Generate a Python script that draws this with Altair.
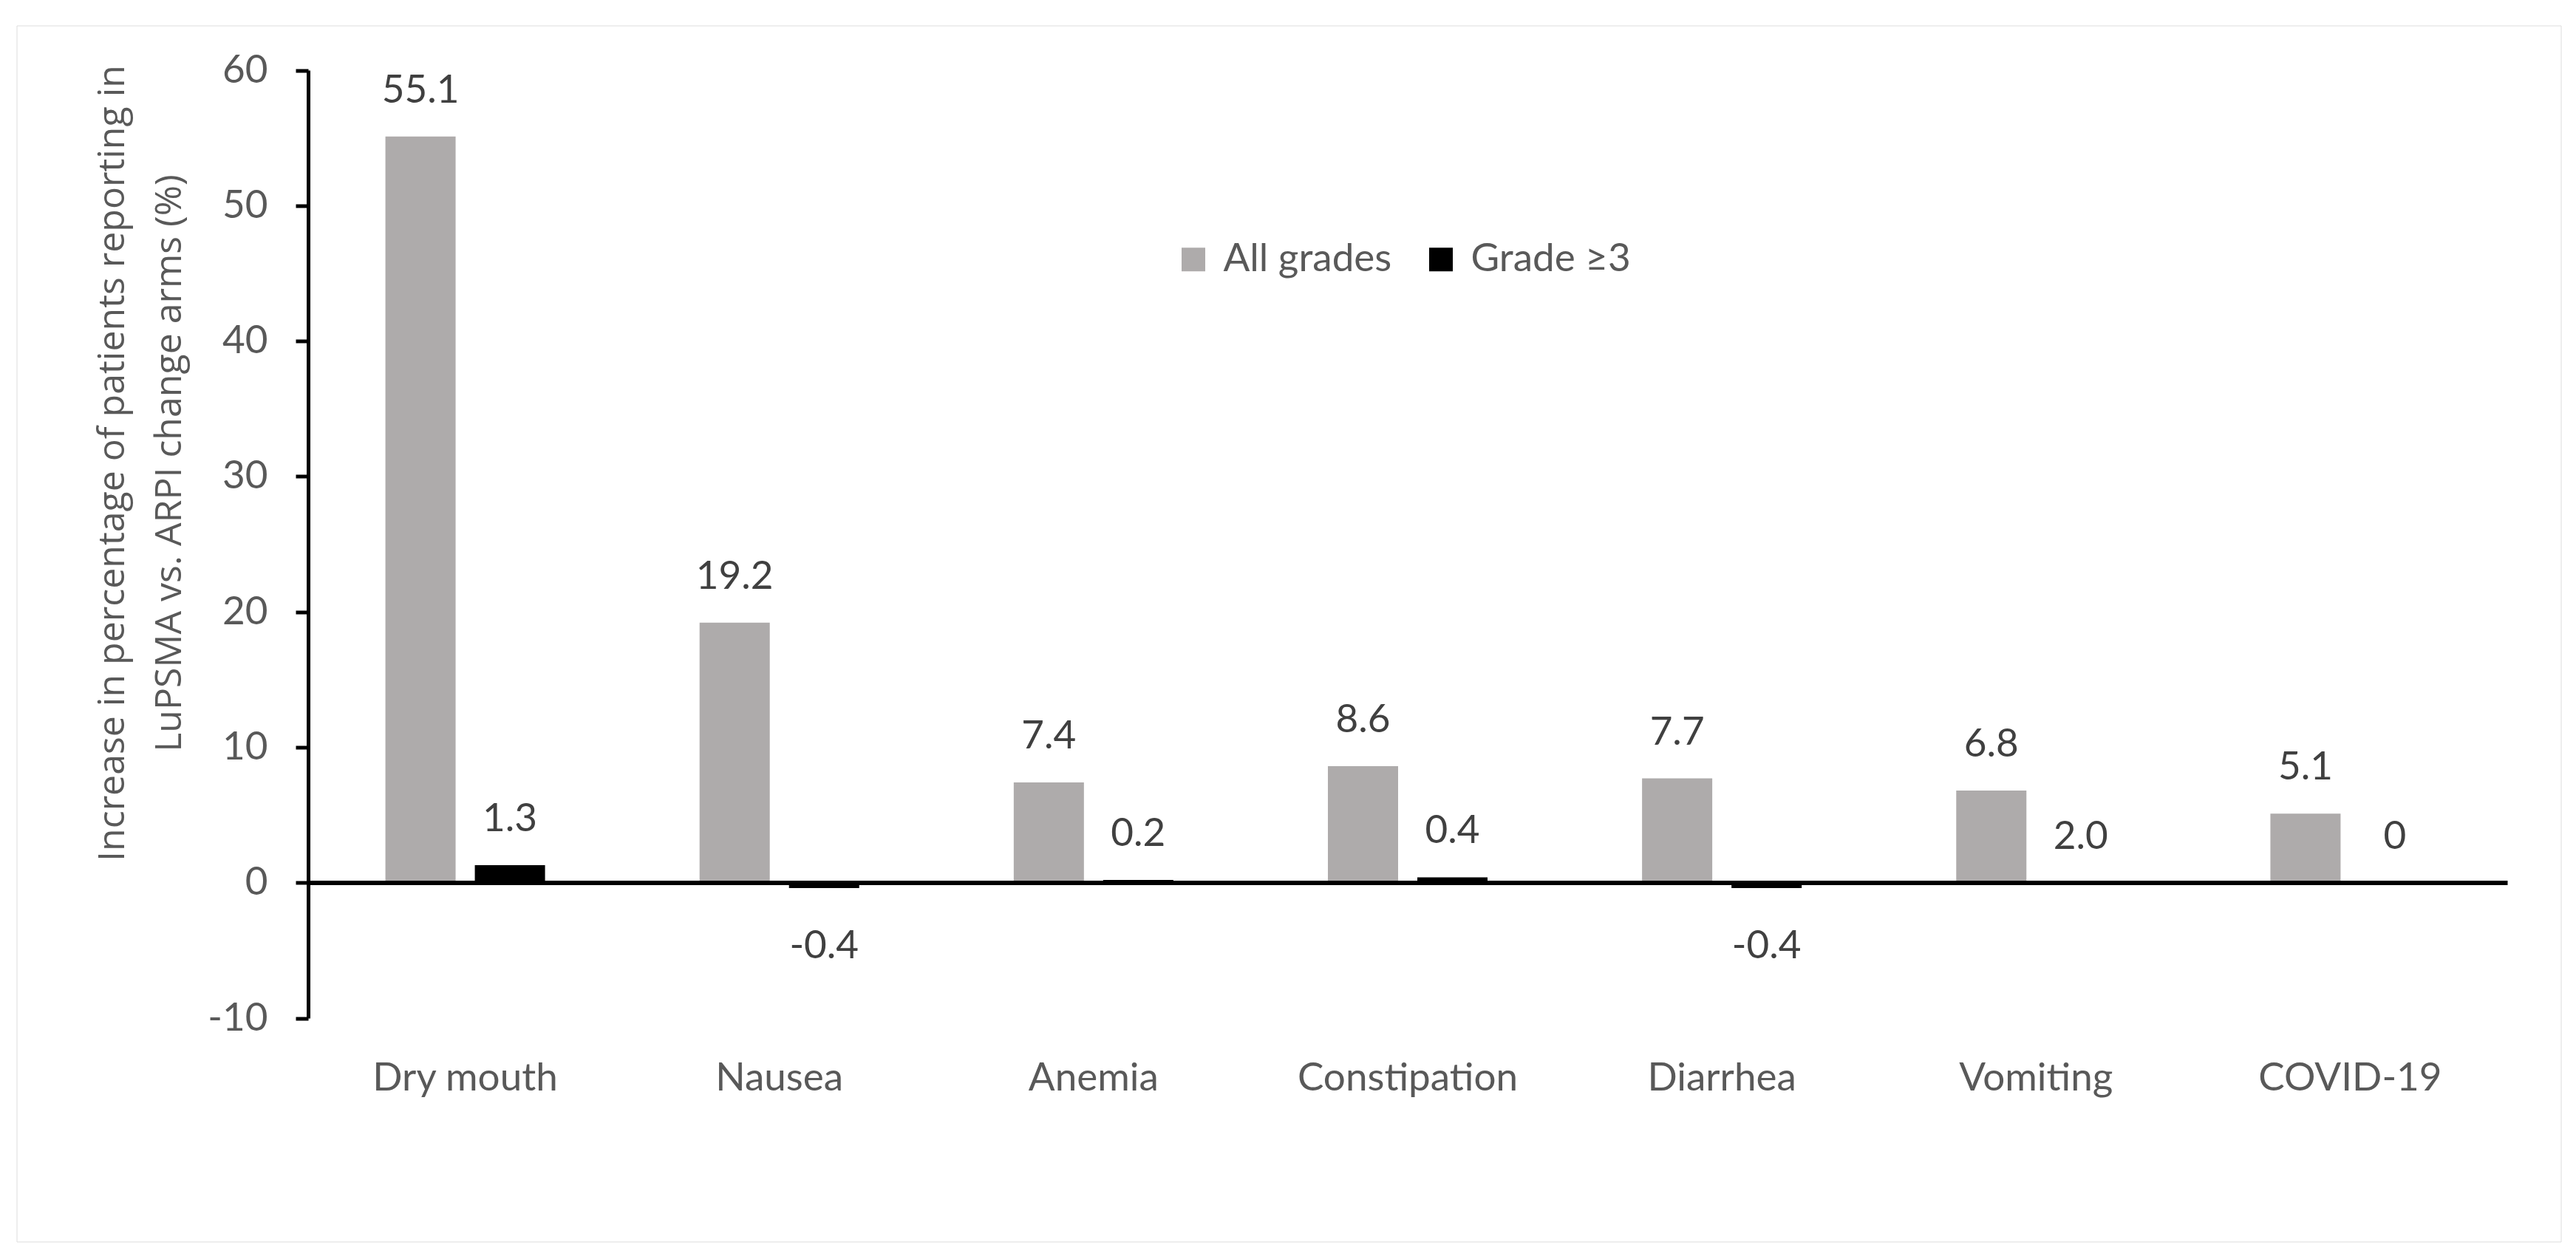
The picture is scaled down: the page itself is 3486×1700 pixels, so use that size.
import altair as alt
import pandas as pd

categories = ["Dry mouth", "Nausea", "Anemia", "Constipation", "Diarrhea", "Vomiting", "COVID-19"]
series = ["All grades", "Grade \u22653"]
all_grades = [55.1, 19.2, 7.4, 8.6, 7.7, 6.8, 5.1]
all_grades_labels = ["55.1", "19.2", "7.4", "8.6", "7.7", "6.8", "5.1"]
# bar heights as drawn in the picture (Vomiting grade >=3 shows no bar)
grade3 = [1.3, -0.4, 0.2, 0.4, -0.4, 0.0, 0.0]
grade3_labels = ["1.3", "-0.4", "0.2", "0.4", "-0.4", "2.0", "0"]
y_ticks = [-10, 0, 10, 20, 30, 40, 50, 60]

rows = []
for i, c in enumerate(categories):
    rows.append({"cat": c, "series": series[0], "v": all_grades[i], "lab": all_grades_labels[i]})
    rows.append({"cat": c, "series": series[1], "v": grade3[i], "lab": grade3_labels[i]})
df = pd.DataFrame(rows)

CAL = "Lato"
TXT = "#595959"
W, H = 3443, 1646

x_enc = alt.X("cat:N", sort=categories,
              scale=alt.Scale(range=[394.5, 3370.5], paddingInner=0, paddingOuter=0),
              axis=alt.Axis(title=None, labelAngle=0, domain=False, ticks=False,
                            labelFont=CAL, labelFontSize=53, labelColor=TXT, labelLimit=0,
                            labelPadding=55, offset=-302.5, labelBaseline="top"))
xoff = alt.XOffset("series:N", sort=series,
                   scale=alt.Scale(paddingInner=0.215, paddingOuter=0.864))
y_scale = alt.Scale(domain=[-10, 60], range=[1343.5, 60.5], nice=False)

bars = alt.Chart(df).mark_bar().encode(
    x=x_enc,
    xOffset=xoff,
    y=alt.Y("v:Q", scale=y_scale,
            axis=alt.Axis(values=y_ticks, offset=-394.5, labelExpr="'' + datum.value",
                          domainColor="black", domainWidth=5,
                          tickColor="black", tickWidth=5, tickSize=17,
                          labelFont=CAL, labelFontSize=53, labelColor=TXT, labelPadding=38,
                          grid=True, gridColor="black",
                          gridWidth=alt.condition("datum.value === 0", alt.value(6), alt.value(0)),
                          gridOpacity=alt.condition("datum.value === 0", alt.value(1), alt.value(0)),
                          zindex=1,
                          title=["Increase in percentage of patients reporting  in",
                                 "LuPSMA vs. ARPI change arms (%)"],
                          titleFont="Open Sans", titleFontSize=50, titleFontWeight="normal",
                          titleColor=TXT, titleLineHeight=77, titleAngle=270,
                          titleBaseline="alphabetic", titleAlign="center",
                          titleX=-250, titleY=592)),
    color=alt.Color("series:N", sort=series,
                    scale=alt.Scale(domain=series, range=["#AEABAB", "#000000"]),
                    legend=alt.Legend(title=None, orient="none", legendX=1566, legendY=290,
                                      direction="horizontal", symbolType="square",
                                      symbolSize=1024, symbolStrokeWidth=0, labelLimit=0,
                                      labelFont=CAL, labelFontSize=53, labelColor=TXT,
                                      labelOffset=14, columnPadding=40, padding=0)),
)

pos_labels = alt.Chart(df).transform_filter("datum.v >= 0").mark_text(
    dy=-46, baseline="alphabetic", font=CAL, fontSize=53, color="#404040"
).encode(x=alt.X("cat:N", sort=categories), xOffset=alt.XOffset("series:N", sort=series),
         y=alt.Y("v:Q"), text="lab:N")

neg_labels = alt.Chart(df).transform_filter("datum.v < 0").mark_text(
    dy=95, baseline="alphabetic", font=CAL, fontSize=53, color="#404040"
).encode(x=alt.X("cat:N", sort=categories), xOffset=alt.XOffset("series:N", sort=series),
         y=alt.Y("v:Q"), text="lab:N")

chart = alt.layer(bars, pos_labels, neg_labels).properties(
    width=W, height=H,
    autosize=alt.AutoSizeParams(type="none"),
    padding={"left": 14.5, "top": 26.5, "right": 6, "bottom": 6},
).configure_view(stroke="#D9D9D9", strokeWidth=5).configure(background="white")

chart.save("out.html", embed_options={"renderer": "svg", "actions": False})
